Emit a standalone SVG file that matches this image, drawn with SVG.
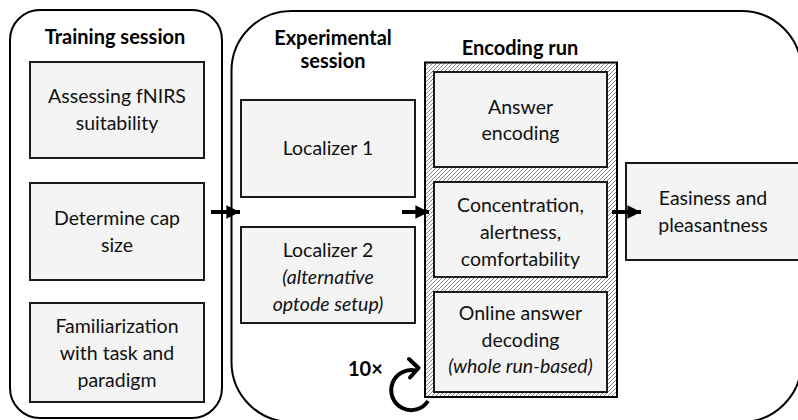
<svg xmlns="http://www.w3.org/2000/svg" width="798" height="420" viewBox="0 0 798 420">
<style>
.panel{fill:#fff;stroke:#000;stroke-width:2}
.box{fill:#f4f4f4;stroke:#1a1a1a;stroke-width:2}
.t{font-family:Lato,"Liberation Sans",Arial,sans-serif;font-size:19.5px;fill:#111;text-anchor:middle}
.i{font-style:italic}
.h{font-family:Lato,"Liberation Sans",Arial,sans-serif;font-size:20px;font-weight:bold;fill:#000;text-anchor:middle}
.arr{fill:none;stroke:#000;stroke-width:4}
</style>
<defs>
<pattern id="hatch" patternUnits="userSpaceOnUse" width="4" height="4">
<rect width="4" height="4" fill="#fff"/>
<path d="M-1,1 L1,-1 M0,4 L4,0 M3,5 L5,3" stroke="#555" stroke-width="0.7"/>
</pattern>
<marker id="ah" viewBox="0 0 10 10" refX="10" refY="5" markerWidth="3.4" markerHeight="3.8" orient="auto" markerUnits="strokeWidth">
<path d="M0,0 L10,5 L0,10 Z" fill="#000"/>
</marker>
</defs>

<g id="training-session">
<rect class="panel" x="10" y="10" width="212" height="408" rx="30"/>
<text class="h" x="115" y="44">Training session</text>
</g>
<g id="experimental-session">
<rect class="panel" x="231.5" y="11" width="570" height="411" rx="60"/>
<text class="h" x="333" y="45">Experimental</text>
<text class="h" x="333" y="68">session</text>
</g>

<g id="assessing">
<rect class="box" x="30" y="62" width="174" height="96"/>
<text class="t" x="117" y="103">Assessing fNIRS</text>
<text class="t" x="117" y="130">suitability</text>
</g>
<g id="cap-size">
<rect class="box" x="30" y="183" width="174" height="97"/>
<text class="t" x="117" y="225">Determine cap</text>
<text class="t" x="117" y="252">size</text>
</g>
<g id="familiarization">
<rect class="box" x="30" y="303" width="174" height="99"/>
<text class="t" x="117" y="333">Familiarization</text>
<text class="t" x="117" y="360">with task and</text>
<text class="t" x="117" y="387">paradigm</text>
</g>

<g id="localizer1">
<rect class="box" x="241" y="100" width="174" height="97"/>
<text class="t" x="328" y="155">Localizer 1</text>
</g>
<g id="localizer2">
<rect class="box" x="241" y="227" width="174" height="96"/>
<text class="t" x="328" y="257">Localizer 2</text>
<text class="t i" x="328" y="284">(alternative</text>
<text class="t i" x="328" y="311">optode setup)</text>
</g>

<g id="encoding-run">
<rect x="425" y="62.5" width="192" height="334.5" fill="url(#hatch)" stroke="#000" stroke-width="2"/>
<text class="h" x="520" y="55">Encoding run</text>
</g>
<g id="answer-encoding">
<rect class="box" x="434" y="72" width="173" height="95"/>
<text class="t" x="520.5" y="114">Answer</text>
<text class="t" x="520.5" y="140">encoding</text>
</g>
<g id="concentration">
<rect class="box" x="434" y="182" width="173" height="95"/>
<text class="t" x="520.5" y="212">Concentration,</text>
<text class="t" x="520.5" y="239">alertness,</text>
<text class="t" x="520.5" y="266">comfortability</text>
</g>
<g id="online-decoding">
<rect class="box" x="434" y="292" width="173" height="100"/>
<text class="t" x="520.5" y="320">Online answer</text>
<text class="t" x="520.5" y="347">decoding</text>
<text class="t i" x="520.5" y="373">(whole run-based)</text>
</g>

<g id="easiness">
<rect class="box" x="626" y="163" width="176" height="97"/>
<text class="t" x="713" y="205">Easiness and</text>
<text class="t" x="713" y="232">pleasantness</text>
</g>

<g id="connectors">
<line class="arr" x1="211" y1="212" x2="240" y2="212" marker-end="url(#ah)"/>
<line class="arr" x1="402" y1="212" x2="429" y2="212" marker-end="url(#ah)"/>
<line class="arr" x1="612" y1="212" x2="641" y2="212" marker-end="url(#ah)"/>
<path class="arr" d="M428,401 A20,20 0 1 1 416,370.7"/>
<path class="arr" d="M409,359 L418.5,368 L410,377.5" stroke-linecap="round" stroke-linejoin="round"/>
<text class="h" x="348" y="375.5" style="text-anchor:start">10×</text>
</g>
</svg>
